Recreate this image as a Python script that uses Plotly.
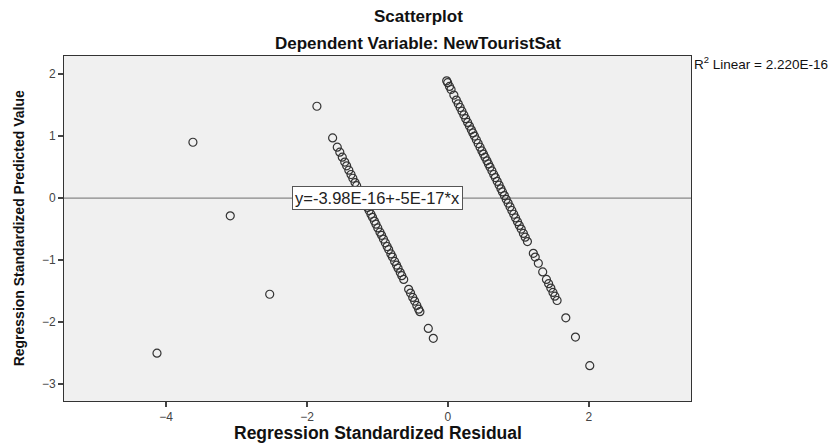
import plotly.graph_objects as go

# Band 1 (lower residual line)
band1_x = [-1.637, -1.571, -1.535, -1.500, -1.465, -1.438, -1.407, -1.376, -1.350, -1.319,
           -1.296, -1.261, -1.230, -1.199, -1.173, -1.142, -1.119, -1.093, -1.071, -1.044,
           -1.022, -0.996, -0.965, -0.942, -0.916, -0.889, -0.863, -0.841, -0.810, -0.788,
           -0.757, -0.730, -0.708, -0.677, -0.655, -0.628, -0.558, -0.531, -0.500, -0.473,
           -0.442, -0.416, -0.398, -0.279, -0.208]
band1_y = [0.97, 0.82, 0.74, 0.66, 0.58, 0.52, 0.45, 0.38, 0.32, 0.25,
           0.20, 0.12, 0.05, -0.02, -0.08, -0.15, -0.20, -0.26, -0.31, -0.37,
           -0.42, -0.48, -0.55, -0.60, -0.66, -0.72, -0.78, -0.83, -0.90, -0.95,
           -1.02, -1.08, -1.13, -1.20, -1.25, -1.31, -1.47, -1.53, -1.60, -1.66,
           -1.73, -1.79, -1.83, -2.10, -2.26]

# Band 2 (upper residual line)
band2_x = [-0.018, -0.004, 0.022, 0.044, 0.084, 0.119, 0.146, 0.173, 0.199, 0.226,
           0.252, 0.279, 0.305, 0.332, 0.354, 0.376, 0.403, 0.429, 0.456, 0.482,
           0.504, 0.527, 0.553, 0.575, 0.597, 0.624, 0.650, 0.673, 0.699, 0.726,
           0.752, 0.774, 0.801, 0.827, 0.854, 0.881, 0.907, 0.934, 0.960, 0.987,
           1.013, 1.040, 1.071, 1.097, 1.128, 1.212, 1.239, 1.283, 1.345, 1.398,
           1.429, 1.460, 1.491, 1.518, 1.549, 1.673, 1.810, 2.013]
band2_y = [1.89, 1.86, 1.80, 1.75, 1.66, 1.58, 1.52, 1.46, 1.40, 1.34,
           1.28, 1.22, 1.16, 1.10, 1.05, 1.00, 0.94, 0.88, 0.82, 0.76,
           0.71, 0.66, 0.60, 0.55, 0.50, 0.44, 0.38, 0.33, 0.27, 0.21,
           0.15, 0.10, 0.04, -0.02, -0.08, -0.14, -0.20, -0.26, -0.32, -0.38,
           -0.44, -0.50, -0.57, -0.63, -0.70, -0.89, -0.95, -1.05, -1.19, -1.31,
           -1.38, -1.45, -1.52, -1.58, -1.65, -1.93, -2.24, -2.70]

# Isolated points
other_x = [-3.62, -3.09, -2.53, -4.13, -1.86]
other_y = [0.90, -0.285, -1.55, -2.50, 1.48]

fit_intercept = -3.98e-16
fit_slope = -5e-17
x_range = [-5.45, 3.45]
y_range = [-3.27, 2.29]
x_ticks = [-4, -2, 0, 2]
y_ticks = [-3, -2, -1, 0, 1, 2]

all_x = band1_x + band2_x + other_x
all_y = band1_y + band2_y + other_y

font_main = "Liberation Sans, Arial, sans-serif"

fig = go.Figure()
fig.add_trace(go.Scatter(
    x=x_range, y=[fit_intercept + fit_slope * v for v in x_range],
    mode="lines", line=dict(color="#6e6e6e", width=1), hoverinfo="skip", showlegend=False))
fig.add_trace(go.Scatter(
    x=all_x, y=all_y, mode="markers",
    marker=dict(symbol="circle-open", size=8, color="#333333", line=dict(width=1.2)),
    showlegend=False))

annotations = [
    dict(text="y=-3.98E-16+-5E-17*x", x=-1.0, y=0, xref="x", yref="y",
         showarrow=False, bgcolor="white", bordercolor="#555555", borderwidth=1,
         borderpad=2, font=dict(family=font_main, size=16.5, color="#222222")),
    dict(text="R<sup>2</sup> Linear = 2.220E-16", x=1.002, y=0.98,
         xref="paper", yref="paper", xanchor="left", yanchor="middle",
         showarrow=False, font=dict(family=font_main, size=13.5, color="#111111")),
    dict(text="<b>Scatterplot</b>", xref="paper", yref="paper", x=0.565, y=1.115,
         xanchor="center", yanchor="middle", showarrow=False,
         font=dict(family=font_main, size=17, color="#111111")),
    dict(text="<b>Dependent Variable: NewTouristSat</b>", xref="paper", yref="paper",
         x=0.565, y=1.037, xanchor="center", yanchor="middle", showarrow=False,
         font=dict(family=font_main, size=17, color="#111111")),
    dict(text="<b>Regression Standardized Residual</b>", xref="paper", yref="paper",
         x=0.5, y=-0.093, xanchor="center", yanchor="middle", showarrow=False,
         font=dict(family=font_main, size=17.5, color="#111111")),
    dict(text="<b>Regression Standardized Predicted Value</b>", xref="paper", yref="paper",
         x=-0.072, y=0.5, xanchor="center", yanchor="middle", showarrow=False,
         textangle=-90, font=dict(family=font_main, size=14, color="#111111")),
]

fig.update_layout(
    width=839, height=444,
    margin=dict(l=64, r=148, t=56, b=43, autoexpand=False),
    paper_bgcolor="white", plot_bgcolor="#f0f0f0",
    font=dict(family=font_main),
    annotations=annotations,
)
fig.update_xaxes(range=x_range, tickvals=x_ticks, ticks="outside", ticklen=5, tickwidth=1.5,
                 tickcolor="#444444", showgrid=False, zeroline=False, showline=True,
                 linecolor="#333333", linewidth=1, mirror=True, automargin=False,
                 tickfont=dict(size=12, color="#444444"))
fig.update_yaxes(range=y_range, tickvals=y_ticks, ticks="outside", ticklen=5, tickwidth=1.5,
                 tickcolor="#444444", showgrid=False, zeroline=False, showline=True,
                 linecolor="#333333", linewidth=1, mirror=True, automargin=False,
                 tickfont=dict(size=12, color="#444444"))
fig.write_html("out.html", config={"displayModeBar": False},
               post_script="document.body.style.margin='0';document.body.style.overflow='hidden';")
